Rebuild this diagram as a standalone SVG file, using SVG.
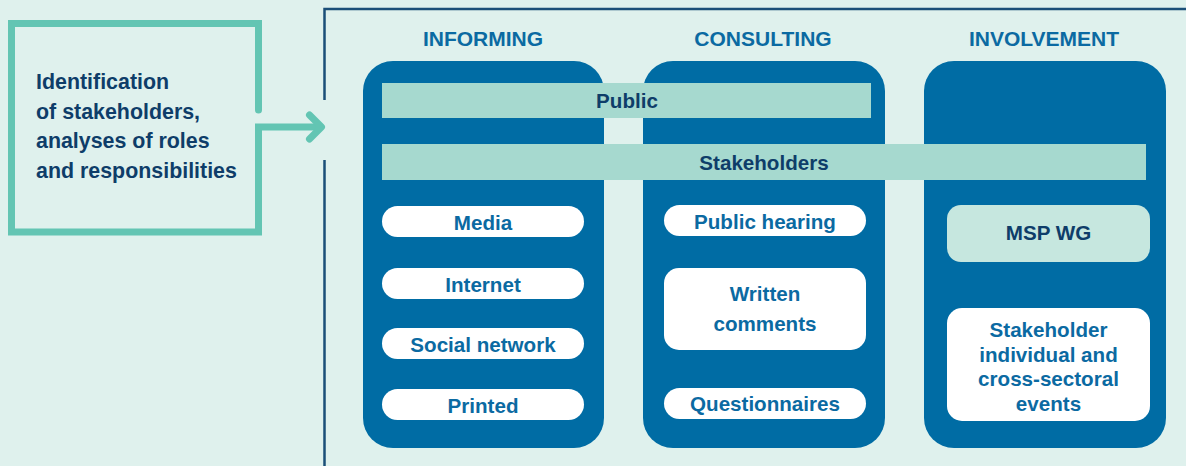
<svg xmlns="http://www.w3.org/2000/svg" width="1186" height="466" viewBox="0 0 1186 466">
<defs>
<style>
.t{font-family:"Liberation Sans",Arial,sans-serif;font-weight:bold;text-anchor:middle}
.hd{font-size:21px;fill:#0b6aa2}
.pl{font-size:20.6px;fill:#0b6aa2}
.nv{font-size:20.6px;fill:#0e3d69}
.lt{font-size:21.4px;fill:#0e3d69;text-anchor:start}
.col{fill:#006ca4}
.pill{fill:#ffffff}
.bar{fill:#a6d9cf}
.teal{fill:none;stroke:#63c5b3;stroke-width:7}
</style>
</defs>
<rect width="1186" height="466" fill="#dff1ed"/>
<g id="frame">
<path d="M324.5 100 V9 H1190 M324.5 160 V470" fill="none" stroke="#1b4f78" stroke-width="2.5"/>
</g>
<g id="identification">
<path class="teal" d="M258.5 110 V23.5 H11.5 V232 H258.5 V127" stroke-linecap="butt"/>
<circle cx="258.5" cy="110" r="3.5" fill="#63c5b3"/>
<text class="t lt" x="36" y="89">Identification</text>
<text class="t lt" x="36" y="118.5">of stakeholders,</text>
<text class="t lt" x="36" y="148">analyses of roles</text>
<text class="t lt" x="36" y="177.5">and responsibilities</text>
</g>
<g id="col-informing">
<text class="t hd" x="483" y="46">INFORMING</text>
<rect class="col" x="363" y="61" width="241" height="387" rx="30"/>
</g>
<g id="col-consulting">
<text class="t hd" x="763" y="46">CONSULTING</text>
<rect class="col" x="643" y="61" width="242" height="387" rx="30"/>
</g>
<g id="col-involvement">
<text class="t hd" x="1044" y="46">INVOLVEMENT</text>
<rect class="col" x="924" y="61" width="242" height="387" rx="30"/>
</g>
<g id="public">
<rect class="bar" x="382" y="83" width="489" height="35"/>
<text class="t nv" x="627" y="108">Public</text>
</g>
<g id="stakeholders">
<rect class="bar" x="382" y="144" width="764" height="36"/>
<text class="t nv" x="764" y="170">Stakeholders</text>
</g>
<g id="media">
<rect class="pill" x="382" y="206" width="202" height="31" rx="15.5"/>
<text class="t pl" x="483" y="230">Media</text>
</g>
<g id="internet">
<rect class="pill" x="382" y="268" width="202" height="31" rx="15.5"/>
<text class="t pl" x="483" y="291.5">Internet</text>
</g>
<g id="social-network">
<rect class="pill" x="382" y="328" width="202" height="31" rx="15.5"/>
<text class="t pl" x="483" y="352">Social network</text>
</g>
<g id="printed">
<rect class="pill" x="382" y="389" width="202" height="31" rx="15.5"/>
<text class="t pl" x="483" y="412.5">Printed</text>
</g>
<g id="public-hearing">
<rect class="pill" x="664" y="205" width="202" height="31" rx="15.5"/>
<text class="t pl" x="765" y="228.5">Public hearing</text>
</g>
<g id="written-comments">
<rect class="pill" x="664" y="268" width="202" height="82" rx="15"/>
<text class="t pl" x="765" y="301">Written</text>
<text class="t pl" x="765" y="330.5">comments</text>
</g>
<g id="questionnaires">
<rect class="pill" x="664" y="388" width="202" height="31" rx="15.5"/>
<text class="t pl" x="765" y="411">Questionnaires</text>
</g>
<g id="msp-wg">
<rect x="947" y="205" width="203" height="57" rx="14" fill="#c6e7df"/>
<text class="t nv" x="1048.5" y="240">MSP WG</text>
</g>
<g id="stakeholder-events">
<rect class="pill" x="947" y="308" width="203" height="113" rx="15"/>
<text class="t pl" x="1048.5" y="337">Stakeholder</text>
<text class="t pl" x="1048.5" y="361.5">individual and</text>
<text class="t pl" x="1048.5" y="386">cross-sectoral</text>
<text class="t pl" x="1048.5" y="410.5">events</text>
</g>
<g id="connectors">
<path class="teal" d="M255 127 H321"/>
<path class="teal" d="M309.5 115 L321.5 127 L309.5 139" stroke-linecap="round" stroke-linejoin="round"/>
</g>
</svg>
